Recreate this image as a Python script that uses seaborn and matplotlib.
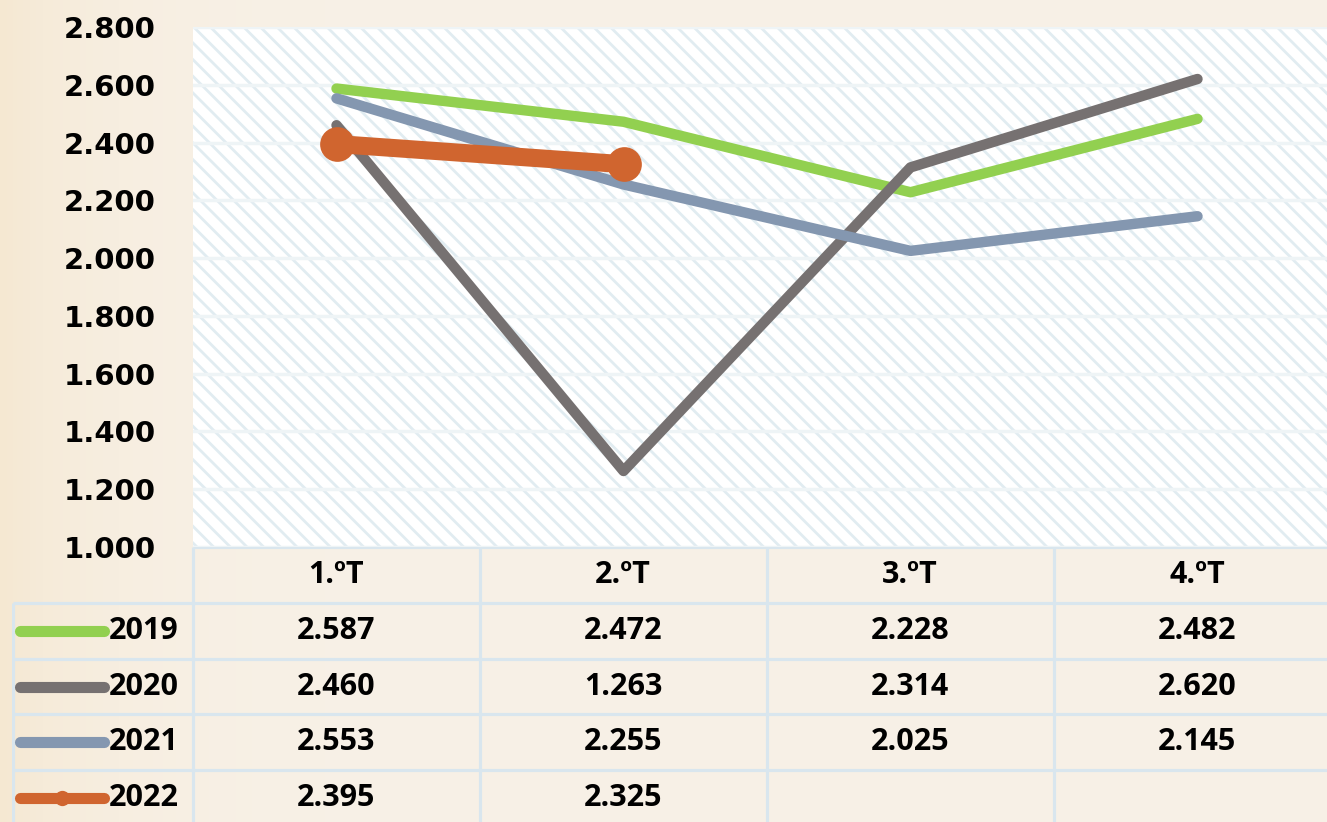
import numpy as np
import pandas as pd
import matplotlib
matplotlib.use("Agg")
import matplotlib.pyplot as plt
from matplotlib.patches import Rectangle
from matplotlib.ticker import FuncFormatter
import seaborn as sns

# Datos (en miles)
trimestres = ["1.ºT", "2.ºT", "3.ºT", "4.ºT"]
anios = ["2019", "2020", "2021", "2022"]
v2019 = [2.587, 2.472, 2.228, 2.482]
v2020 = [2.460, 1.263, 2.314, 2.620]
v2021 = [2.553, 2.255, 2.025, 2.145]
v2022 = [2.395, 2.325, np.nan, np.nan]
colores = ["#92d050", "#767171", "#8497b0", "#d0652f"]
y_ticks = [1.0, 1.2, 1.4, 1.6, 1.8, 2.0, 2.2, 2.4, 2.6, 2.8]

series = [v2019, v2020, v2021, v2022]
df = pd.DataFrame({
    "Anio": np.repeat(anios, len(trimestres)),
    "pos": np.tile(np.arange(len(trimestres)), len(anios)),
    "valor": np.concatenate(series),
})

sns.set_style("white")
plt.rcParams["font.family"] = ["Open Sans", "DejaVu Sans"]
plt.rcParams["hatch.linewidth"] = 2.0

W, H = 1327, 822
fig = plt.figure(figsize=(W / 100, H / 100), dpi=100)

# fondo crema
bg = fig.add_axes([0, 0, 1, 1], zorder=-5)
xs = np.linspace(0, 1, 400)
base = np.array([248, 241, 231]) / 255
izq = np.array([245, 232, 210]) / 255
peso = np.exp(-xs / 0.08)[:, None]
fila = base + (izq - base) * peso
bg.imshow(fila[None, :, :].repeat(10, axis=0), aspect="auto", extent=[0, 1, 0, 1])
bg.axis("off")

# gráfico principal
ax = fig.add_axes([193 / W, 1 - 547 / H, 1148 / W, 520 / H])
ax.add_patch(Rectangle((0, 0), 1, 1, transform=ax.transAxes, facecolor="white",
                       edgecolor="#e1ecf1", hatch="\\\\", linewidth=0, zorder=0))
ax.set_axisbelow(True)
ax.yaxis.grid(True, color="#eef4f6", linewidth=2.5)

for anio, color in zip(anios, colores):
    d = df[df["Anio"] == anio].dropna()
    if anio == "2022":
        sns.lineplot(data=d, x="pos", y="valor", color=color, linewidth=13,
                     marker="o", markersize=25, markeredgewidth=0,
                     solid_capstyle="round", ax=ax, legend=False, zorder=4)
    else:
        sns.lineplot(data=d, x="pos", y="valor", color=color, linewidth=7.5,
                     solid_capstyle="round", solid_joinstyle="round",
                     ax=ax, legend=False, zorder=3)

ax.set_xlim(-0.5, 3.5)
ax.set_ylim(1.0, 2.8)
ax.set_xticks([])
ax.set_yticks(y_ticks)
ax.yaxis.set_major_formatter(FuncFormatter(lambda v, p: f"{v:.3f}"))
ax.tick_params(axis="y", length=0, pad=27, labelcolor="black")
for lab in ax.get_yticklabels():
    lab.set_fontfamily("DejaVu Sans")
    lab.set_fontweight("bold")
    lab.set_fontsize(21)
ax.set_xlabel("")
ax.set_ylabel("")
for s in ax.spines.values():
    s.set_visible(False)

# tabla de datos
tax = fig.add_axes([12 / W, 1 - 826 / H, (1341 - 12) / W, 279 / H])
tax.set_xlim((12 - 336) / 287, (1341 - 336) / 287)
tax.set_ylim(5, 0)
tax.axis("off")
borde = "#d9e6ee"
x_izq = (12 - 336) / 287 + 0.004
tax.hlines(0, -0.5, 3.5, color=borde, lw=2.3)
tax.hlines([1, 2, 3, 4], x_izq, 3.5, color=borde, lw=2.3)
tax.vlines([-0.5, 0.5, 1.5, 2.5], 0, 5, color=borde, lw=2.3)
tax.vlines(x_izq, 1, 5, color=borde, lw=2.3)

for i, t in enumerate(trimestres):
    tax.text(i, 0.5, t, ha="center", va="center", fontsize=22, fontweight="bold",
             color="black")

for k, (anio, color, vals) in enumerate(zip(anios, colores, series)):
    yk = k + 1.5
    tax.plot([-1.10, -0.81], [yk, yk], color=color, lw=8, solid_capstyle="round")
    if anio == "2022":
        tax.plot([-0.955], [yk], marker="o", markersize=11, color=color, markeredgewidth=0)
    tax.text(-0.79, yk, anio, ha="left", va="center", fontsize=22, fontweight="bold",
             color="black")
    for i, v in enumerate(vals):
        if not np.isnan(v):
            tax.text(i, yk, f"{v:.3f}", ha="center", va="center", fontsize=22,
                     fontweight="bold", color="black")

fig.savefig("out.png", dpi=100)
